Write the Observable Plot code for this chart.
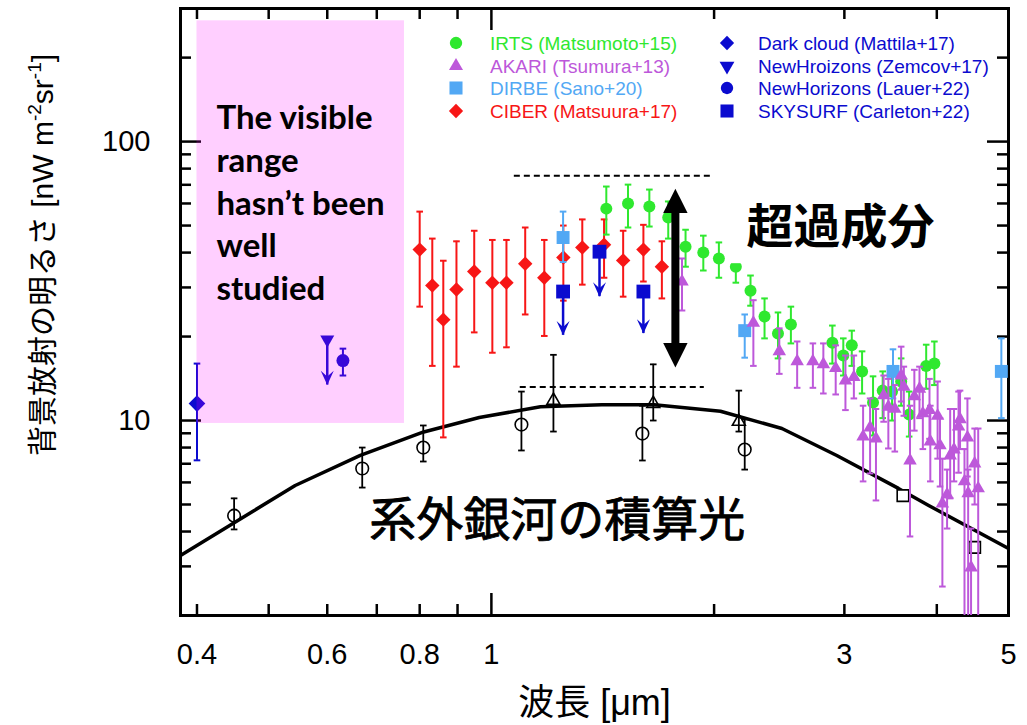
<!DOCTYPE html>
<html><head><meta charset="utf-8">
<script src="https://cdn.jsdelivr.net/npm/d3@7"></script>
<script src="https://cdn.jsdelivr.net/npm/@observablehq/plot@0.6"></script>
<style>
html,body{margin:0;padding:0;background:#fff;}
#wrap{position:relative;width:1027px;height:725px;}
</style></head><body><div id="wrap"></div>
<script>
// ---------- data: [wavelength µm, brightness, lower, upper] ----------
const IRTS = [
  [1.43,57.5,46.4,69.0],[1.53,60.0,49.2,70.1],[1.635,58.5,49.6,67.3],[1.734,53.4,44.9,61.0],
  [1.83,42.0,35.6,48.3],[1.934,40.0,34.5,46.0],[2.03,38.1,32.5,43.5],[2.14,35.6,31.2,41.0],
  [2.24,29.2,25.8,33.1],[2.34,23.6,19.7,27.4],[2.44,20.5,16.7,24.4],[2.54,22.1,18.9,25.6],
  [2.89,19.0,16.0,21.9],[2.99,17.1,14.5,19.7],[3.07,18.6,15.7,21.0],[3.17,15.0,12.5,17.7],
  [3.28,11.6,8.84,14.4],[3.38,12.8,10.2,15.0],[3.48,12.7,10.0,15.0],[3.58,13.8,11.3,16.7],
  [3.67,10.5,8.76,12.7],[3.87,15.7,13.0,18.7],[3.97,16.0,13.4,19.2]
];
const AKARI = [
  [1.81,31.5,24.8,38.1],[2.26,22.4,15.7,27.0],[2.45,17.7,14.7,21.4],[2.59,16.3,13.1,19.2],
  [2.72,16.3,13.1,18.9],[2.81,15.9,12.5,18.9],[2.92,15.4,12.4,18.6],[3.01,13.9,10.9,17.1],
  [3.09,14.3,12.0,17.1],[3.18,8.76,6.05,11.3],[3.25,9.44,6.46,12.0],[3.31,8.62,5.17,11.0],
  [3.39,12.3,9.9,14.5],[3.44,11.2,7.94,14.1],[3.51,11.0,7.74,13.4],[3.58,14.5,11.7,18.4],
  [3.61,13.2,10.4,15.6],[3.68,7.19,3.84,11.3],[3.73,12.2,9.2,15.2],[3.79,13.0,10.2,15.6],
  [3.83,10.6,7.9,13.0],[3.91,10.9,8.6,14.1],[3.92,8.41,6.05,11.3],[4.01,10.4,7.3,13.8],
  [4.04,8.14,5.8,10.2],[4.07,5.04,2.54,7.3],[4.13,5.43,4.1,6.67],[4.17,7.49,5.26,11.0],
  [4.22,7.87,6.05,11.0],[4.28,9.52,6.5,12.7],[4.30,10.1,7.9,12.8],[4.36,6.05,1.5,7.9],
  [4.40,8.69,6.3,12.0],[4.41,5.48,1.5,6.67],[4.45,2.97,1.5,4.1],[4.50,7.01,5.0,9.36],
  [4.55,5.71,1.5,9.36]
];
const DIRBE = [[1.25,45.3,37.0,56.1],[2.20,21.0,16.8,24.0],[3.49,15.0,12.0,18.0],[4.89,15.0,10.2,19.7]];
const CIBER = [
  [0.80,41.0,25.6,56.1],[0.832,30.5,15.7,44.9],[0.861,23.0,8.7,37.4],[0.897,29.5,15.6,43.9],
  [0.948,34.2,20.7,47.9],[1.003,31.2,17.5,44.4],[1.048,31.2,18.3,44.4],[1.111,36.5,24.0,49.2],
  [1.179,32.5,20.1,44.4],[1.251,38.4,26.9,50.0],[1.327,41.7,30.7,52.6],[1.42,42.7,32.5,52.6],
  [1.507,37.5,27.8,47.9],[1.605,41.0,31.5,50.3],[1.70,35.6,27.4,43.9]
];
const DARK_CLOUD = [[0.40,11.5,7.2,16.0]];
const NH_LAUER = [[0.63,16.4,14.5,18.1]];
// upper limits: [wavelength, limit, arrow end]
const NH_ZEMCOV = [[0.60,19.5,13.4]];
const SKYSURF = [[1.25,29.0,20.2],[1.40,40.3,27.8],[1.605,29.0,20.5]];
// integrated galaxy light
const EBL_CIRCLES = [[0.449,4.56,4.07,5.26],[0.669,6.73,5.75,8.0],[0.809,8.0,7.13,9.6],[1.098,9.67,7.81,12.7],[1.60,8.98,7.19,11.3],[2.20,7.87,6.67,10.1]];
const EBL_TRIANGLES = [[1.213,11.8,9.13,17.2],[1.655,11.5,10.0,15.9],[2.16,9.92,9.13,12.8]];
const EBL_SQUARES = [[3.60,5.38],[4.50,3.51]];
const EBL_MODEL = [[0.38,3.28],[0.543,5.85],[0.665,7.5],[0.81,9.1],[0.963,10.25],[1.165,11.2],[1.41,11.4],[1.66,11.4],[2.04,10.8],[2.47,9.36],[2.93,7.49],[3.55,5.71],[3.90,4.96],[5.0,3.48]];
// annotations
const EXCESS_ARROW = [[1.773,15.5,67.8]];            // wavelength, bottom tip, top tip
const DASH_LINES = [[1.074,1.977,75.5],[1.094,1.94,13.2]]; // x1, x2, level
const VISIBLE_BAND = [[0.40,0.763,9.76,271]];
const X_LABELS = [0.4,0.6,0.8,1,3,5];
const X_MINOR = [0.4,0.5,0.6,0.7,0.8,0.9,2,3,4];
const X_MAJOR = [1];
const Y_LABELS = [10,100];
const Y_MINOR = [3,4,5,6,7,8,9,20,30,40,50,60,70,80,90,200];
const Y_MAJOR = [10,100];
const LEGEND = [
  ["IRTS (Matsumoto+15)","green","circle",0,0],["AKARI (Tsumura+13)","purple","triangle",0,1],
  ["DIRBE (Sano+20)","light","square",0,2],["CIBER (Matsuura+17)","red","diamond",0,3],
  ["Dark cloud (Mattila+17)","blue","diamond",1,0],["NewHroizons (Zemcov+17)","blue","tridown",1,1],
  ["NewHorizons (Lauer+22)","blue","circle",1,2],["SKYSURF (Carleton+22)","blue","square",1,3]
];

// ---------- styles ----------
const COL = {green:"#2fe82f", purple:"#bd58da", light:"#52a8f4", red:"#f71616", blue:"#0b0bcf", black:"#000"};
const SANS = "'Liberation Sans', Arial, sans-serif";
const W = 1027, H = 725, ML = 180, MR = 19, MT = 8, MB = 110;
const PW = W - ML - MR, PH = H - MT - MB;

const pts = a => a.map(([x,y,lo,hi]) => ({x,y,lo,hi}));
const lims = a => a.map(([x,y,end]) => ({x,y,end}));
const cap = {draw(ctx,size){const r=Math.sqrt(size/Math.PI); ctx.moveTo(-r,0); ctx.lineTo(r,0);}};
const headUp = {draw(ctx,size){const r=Math.sqrt(size/Math.PI); ctx.moveTo(0,0); ctx.lineTo(r,2*r); ctx.lineTo(-r,2*r); ctx.closePath();}};
const notchDown = {draw(ctx,size){const r=Math.sqrt(size/Math.PI); ctx.moveTo(0,0); ctx.lineTo(-r,-2.2*r); ctx.lineTo(0,-1.3*r); ctx.lineTo(r,-2.2*r); ctx.closePath();}};

function errbars(data, color, sw=2){
  return [
    Plot.ruleX(data,{x:"x",y1:"lo",y2:"hi",stroke:color,strokeWidth:sw,clip:true}),
    Plot.dot(data,{x:"x",y:"lo",symbol:cap,r:3.3,fill:"none",stroke:color,strokeWidth:sw,clip:true}),
    Plot.dot(data,{x:"x",y:"hi",symbol:cap,r:3.3,fill:"none",stroke:color,strokeWidth:sw,clip:true})
  ];
}
function limits(data, color, r){
  return [
    Plot.ruleX(data,{x:"x",y1:"y",y2:"end",stroke:color,strokeWidth:2.5}),
    Plot.dot(data,{x:"x",y:"end",symbol:notchDown,r,fill:color})
  ];
}

const ciber = pts(CIBER), irts = pts(IRTS), dirbe = pts(DIRBE), akari = pts(AKARI);
const dark = pts(DARK_CLOUD), lauer = pts(NH_LAUER);
const zemcov = lims(NH_ZEMCOV), skysurf = lims(SKYSURF);
const eblC = pts(EBL_CIRCLES), eblT = pts(EBL_TRIANGLES);
const eblS = EBL_SQUARES.map(([x,y])=>({x,y}));
const model = EBL_MODEL.map(([x,y])=>({x,y}));
const arrow = EXCESS_ARROW.map(([x,lo,hi])=>({x,lo,hi}));
const dashes = DASH_LINES.map(([x1,x2,y])=>({x1,x2,y}));
const band = VISIBLE_BAND.map(([x1,x2,y1,y2])=>({x1,x2,y1,y2}));

const chart = Plot.plot({
  width: W, height: H,
  marginLeft: ML, marginRight: MR, marginTop: MT, marginBottom: MB,
  style: {background:"white", fontFamily: SANS, color:"black"},
  x: {type:"log", domain:[0.38,5.0]},
  y: {type:"log", domain:[2,300]},
  marks: [
    // inward ticks on all four sides
    Plot.tickX(X_MINOR,{x:d=>d,insetTop:PH-11,stroke:"black",strokeWidth:2.5}),
    Plot.tickX(X_MAJOR,{x:d=>d,insetTop:PH-22,stroke:"black",strokeWidth:2.5}),
    Plot.tickX(X_MINOR,{x:d=>d,insetBottom:PH-11,stroke:"black",strokeWidth:2.5}),
    Plot.tickX(X_MAJOR,{x:d=>d,insetBottom:PH-22,stroke:"black",strokeWidth:2.5}),
    Plot.tickY(Y_MINOR,{y:d=>d,insetRight:PW-11,stroke:"black",strokeWidth:2.5}),
    Plot.tickY(Y_MAJOR,{y:d=>d,insetRight:PW-21,stroke:"black",strokeWidth:2.5}),
    Plot.tickY(Y_MINOR,{y:d=>d,insetLeft:PW-11,stroke:"black",strokeWidth:2.5}),
    Plot.tickY(Y_MAJOR,{y:d=>d,insetLeft:PW-21,stroke:"black",strokeWidth:2.5}),
    Plot.frame({stroke:"black",strokeWidth:3}),
    // integrated galaxy light
    Plot.line(model,{x:"x",y:"y",stroke:"black",strokeWidth:3.5,clip:true}),
    ...errbars(eblC,"black",1.8),
    ...errbars(eblT,"black",1.8),
    Plot.dot(eblC,{x:"x",y:"y",r:6.3,fill:"none",stroke:"black",strokeWidth:1.6}),
    Plot.dot(eblT,{x:"x",y:"y",symbol:"triangle",r:4.8,fill:"none",stroke:"black",strokeWidth:1.6}),
    Plot.dot(eblS,{x:"x",y:"y",symbol:"square",r:6.5,fill:"white",stroke:"black",strokeWidth:1.6}),
    // CIBER
    ...errbars(ciber,COL.red),
    Plot.dot(ciber,{x:"x",y:"y",symbol:"diamond2",r:6.5,fill:COL.red}),
    // IRTS
    ...errbars(irts,COL.green),
    Plot.dot(irts,{x:"x",y:"y",r:6,fill:COL.green}),
    // DIRBE
    ...errbars(dirbe,COL.light),
    Plot.dot(dirbe,{x:"x",y:"y",symbol:"square",r:7.3,fill:COL.light}),
    // AKARI
    ...errbars(akari,COL.purple),
    Plot.dot(akari,{x:"x",y:"y",symbol:"triangle",r:5,fill:COL.purple,clip:true}),
    // dark cloud, New Horizons
    ...errbars(dark,COL.blue),
    Plot.dot(dark,{x:"x",y:"y",symbol:"diamond2",r:7.5,fill:COL.blue}),
    ...errbars(lauer,COL.blue),
    Plot.dot(lauer,{x:"x",y:"y",r:6.5,fill:COL.blue}),
    ...limits(zemcov,COL.blue,6.5),
    Plot.dot(zemcov,{x:"x",y:"y",symbol:"triangle",r:5.2,rotate:180,fill:COL.blue}),
    // SKYSURF upper limits
    ...limits(skysurf,COL.blue,6.5),
    Plot.dot(skysurf,{x:"x",y:"y",symbol:"square",r:7.8,fill:COL.blue}),
    // excess component markers
    Plot.ruleY(dashes,{y:"y",x1:"x1",x2:"x2",stroke:"black",strokeWidth:2,strokeDasharray:"6,4"}),
    Plot.ruleX(arrow,{x:"x",y1:"hi",y2:"lo",stroke:"black",strokeWidth:8,insetTop:18,insetBottom:18}),
    Plot.dot(arrow,{x:"x",y:"hi",symbol:headUp,r:12.2,fill:"black"}),
    Plot.dot(arrow,{x:"x",y:"lo",symbol:headUp,r:12.2,rotate:180,fill:"black"}),
    Plot.rect([0],{x1:2.1,x2:4.2,y1:36.5,y2:68,fill:"white"}),
    Plot.text(["超過成分"],{x:2.212,y:49.2,textAnchor:"start",fontSize:47,fontWeight:700,fontFamily:"'Noto Sans CJK JP', sans-serif",fill:"black"}),
    Plot.text(["系外銀河の積算光"],{x:0.684,y:4.38,textAnchor:"start",fontSize:47,fontWeight:400,fontFamily:"'Noto Sans CJK JP', sans-serif",fill:"black",stroke:"black",strokeWidth:0.9}),
    // visible range band (translucent overlay)
    Plot.rect(band,{x1:"x1",x2:"x2",y1:"y1",y2:"y2",fill:"#ff00ff",fillOpacity:0.19}),
    Plot.text(["The visible\nrange\nhasn’t been\nwell\nstudied"],{x:0.425,y:143,textAnchor:"start",lineAnchor:"top",lineHeight:1.3,fontSize:33,fontWeight:700,fontFamily:"Lato, sans-serif",fill:"black"}),
    // axes
    Plot.axisX(X_LABELS,{tickSize:0,tickPadding:28,fontSize:29,fontFamily:SANS,tickFormat:d=>String(d),label:null}),
    Plot.axisY(Y_LABELS,{tickSize:0,tickPadding:30,fontSize:29,fontFamily:SANS,tickFormat:d=>String(d),label:null}),
    Plot.text(["波長 [μm]"],{frameAnchor:"bottom",dy:99,fontSize:36,fontFamily:"'Liberation Sans','Noto Sans CJK JP',sans-serif",fill:"black"})
  ]
});
document.getElementById("wrap").appendChild(chart);

// y-axis title with superscripts
const svg = d3.select(chart);
const yt = svg.append("text")
  .attr("transform","translate(53,255) rotate(-90)")
  .attr("text-anchor","middle")
  .attr("font-size",30)
  .attr("fill","black")
  .attr("font-family","'Liberation Sans','Noto Sans CJK JP',sans-serif");
yt.append("tspan").text("背景放射の明るさ [nW m");
yt.append("tspan").attr("dy",-12).attr("font-size",19).text("-2");
yt.append("tspan").attr("dy",12).text("sr");
yt.append("tspan").attr("dy",-12).attr("font-size",19).text("-1");
yt.append("tspan").attr("dy",12).text("]");

// legend
const symbolOf = {circle:[d3.symbolCircle,120,0],triangle:[d3.symbolTriangle,85,0],square:[d3.symbolSquare,170,0],diamond:[d3.symbolDiamond2,130,0],tridown:[d3.symbolTriangle,95,180]};
const colX = [[456,490],[727,758]], rowY = [43,66,88,111];
const lg = svg.append("g").attr("text-anchor","start");
LEGEND.forEach(([label,col,sym,c,r])=>{
  const [type,size,rot] = symbolOf[sym];
  lg.append("path").attr("d",d3.symbol(type,size)())
    .attr("transform",`translate(${colX[c][0]},${rowY[r]}) rotate(${rot})`)
    .attr("fill",COL[col]);
  lg.append("text").attr("x",colX[c][1]).attr("y",rowY[r]).attr("dy","0.35em")
    .attr("text-anchor","start")
    .attr("font-size",19).attr("font-family",SANS).attr("fill",COL[col]).text(label);
});
</script></body></html>
